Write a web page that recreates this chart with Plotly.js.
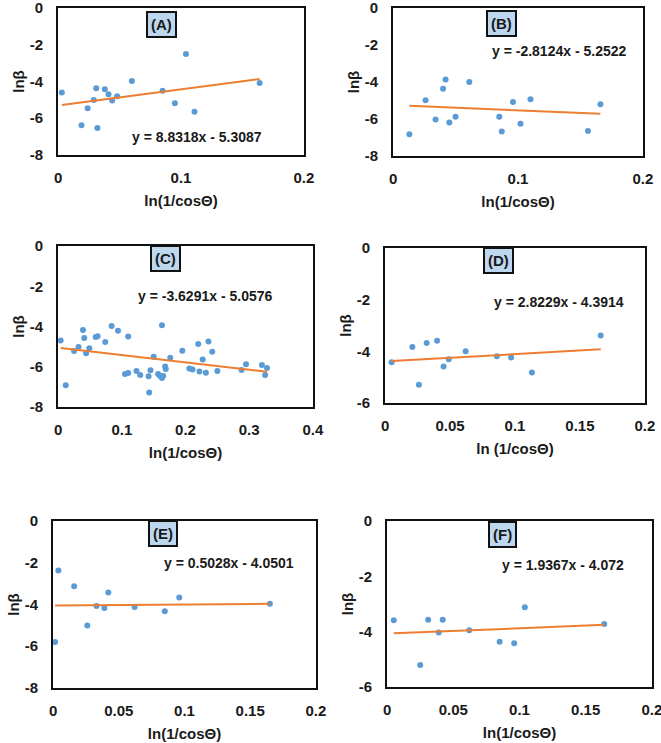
<!DOCTYPE html>
<html>
<head>
<meta charset="utf-8">
<script src="https://cdn.plot.ly/plotly-3.0.1.min.js"></script>
<style>
  html, body { margin: 0; padding: 0; background: #fff; }
  #chart { width: 661px; height: 743px; }
</style>
</head>
<body>
<div id="chart"></div>
<script>
// valores (x = ln(1/cosθ), y = lnβ)
const xA = [0.003, 0.019, 0.024, 0.029, 0.031, 0.032, 0.038, 0.041, 0.044, 0.048, 0.060, 0.085, 0.095, 0.104, 0.111, 0.164];
const yA = [-4.60, -6.39, -5.46, -5.01, -4.37, -6.53, -4.42, -4.70, -5.04, -4.81, -3.97, -4.51, -5.19, -2.50, -5.65, -4.08];

const xB = [0.013, 0.026, 0.034, 0.040, 0.042, 0.045, 0.050, 0.061, 0.085, 0.087, 0.096, 0.102, 0.110, 0.156, 0.166];
const yB = [-6.83, -4.99, -6.03, -4.37, -3.86, -6.19, -5.88, -4.00, -5.88, -6.68, -5.08, -6.26, -4.94, -6.65, -5.21];

const xC = [0.004, 0.012, 0.025, 0.032, 0.039, 0.041, 0.044, 0.049, 0.059, 0.062, 0.074, 0.084, 0.094, 0.105, 0.110,
            0.110, 0.123, 0.129, 0.142, 0.143, 0.145, 0.150, 0.157, 0.160, 0.163, 0.163, 0.165, 0.168, 0.169, 0.176,
            0.195, 0.206, 0.211, 0.220, 0.222, 0.227, 0.232, 0.236, 0.242, 0.250, 0.288, 0.295, 0.320, 0.325, 0.328];
const yC = [-4.70, -6.92, -5.22, -5.02, -4.17, -4.57, -5.33, -5.08, -4.52, -4.49, -4.77, -3.97, -4.21, -6.36, -6.31,
            -4.50, -6.21, -6.41, -6.47, -7.28, -6.17, -5.50, -6.36, -6.46, -6.56, -3.94, -6.46, -5.99, -6.11, -5.56,
            -5.20, -6.09, -6.14, -4.87, -6.24, -5.64, -6.30, -4.74, -5.25, -6.21, -6.16, -5.88, -5.91, -6.41, -6.07];

const xD = [0.005, 0.021, 0.026, 0.032, 0.040, 0.045, 0.049, 0.062, 0.086, 0.097, 0.113, 0.166];
const yD = [-4.42, -3.83, -5.30, -3.68, -3.59, -4.59, -4.31, -4.00, -4.19, -4.24, -4.82, -3.39];

const xE = [0.0015, 0.004, 0.016, 0.026, 0.033, 0.039, 0.042, 0.062, 0.085, 0.096, 0.165];
const yE = [-5.80, -2.37, -3.13, -5.01, -4.07, -4.17, -3.43, -4.12, -4.32, -3.66, -3.97];

const xF = [0.005, 0.025, 0.031, 0.039, 0.042, 0.062, 0.085, 0.096, 0.104, 0.164];
const yF = [-3.59, -5.21, -3.57, -4.03, -3.57, -3.95, -4.37, -4.42, -3.12, -3.72];

// coeficientes das linhas de tendência (y = a x + b)
const slopes = [8.8318, -2.8124, -3.6291, 2.8229, 0.5028, 1.9367];
const intercepts = [-5.3087, -5.2522, -5.0576, -4.3914, -4.0501, -4.072];
const equations = ['y = 8.8318x - 5.3087', 'y = -2.8124x - 5.2522', 'y = -3.6291x - 5.0576',
                   'y = 2.8229x - 4.3914', 'y = 0.5028x - 4.0501', 'y = 1.9367x - 4.072'];
const panelLabels = ['(A)', '(B)', '(C)', '(D)', '(E)', '(F)'];
const xTitles = ['ln(1/cosΘ)', 'ln(1/cosΘ)', 'ln(1/cosΘ)', 'ln (1/cosΘ)', 'ln(1/cosΘ)', 'ln(1/cosΘ)'];
const xTicks = [[0, 0.1, 0.2], [0, 0.1, 0.2], [0, 0.1, 0.2, 0.3, 0.4],
                [0, 0.05, 0.1, 0.15, 0.2], [0, 0.05, 0.1, 0.15, 0.2], [0, 0.05, 0.1, 0.15, 0.2]];
const yTicks8 = [0, -2, -4, -6, -8];
const yTicks6 = [0, -2, -4, -6];

const xs = [xA, xB, xC, xD, xE, xF];
const ys = [yA, yB, yC, yD, yE, yF];
const yTicks = [yTicks8, yTicks8, yTicks8, yTicks6, yTicks8, yTicks6];

// posição dos painéis em pixels: [esquerda, direita, topo, base]
const W = 661, H = 743;
const boxes = [
  [58, 304, 8, 155], [393, 643, 8, 156],
  [58, 313, 246, 407], [385, 645, 248, 403],
  [53, 316, 521, 688], [387, 652, 521, 687]
];
const labelPos = [[0.084, -0.92], [0.087, -0.86], [0.168, -0.62], [0.087, -0.48], [0.084, -0.6], [0.087, -0.47]];
const eqPos = [[0.113, -7.03], [0.133, -2.3], [0.231, -2.48], [0.134, -2.09], [0.134, -2.01], [0.133, -1.59]];

const font = 'Liberation Sans, Arial, sans-serif';
const txt = '#1a1a1a';

const data = [];
const layout = {
  width: W, height: H,
  margin: { l: 0, r: 0, t: 0, b: 0 },
  paper_bgcolor: '#fff', plot_bgcolor: '#fff',
  showlegend: false,
  font: { family: font, color: txt },
  annotations: []
};

for (let i = 0; i < 6; i++) {
  const n = i === 0 ? '' : String(i + 1);
  const xa = 'x' + n, ya = 'y' + n;
  const b = boxes[i];
  const xt = xTicks[i], yt = yTicks[i];
  const xmax = xt[xt.length - 1], ymin = yt[yt.length - 1];

  data.push({
    x: xs[i], y: ys[i], xaxis: xa, yaxis: ya,
    type: 'scatter', mode: 'markers',
    marker: { color: '#5b9bd5', size: 6 },
    hoverinfo: 'x+y'
  });

  // linha de tendência entre o menor e o maior x
  const x0 = Math.min(...xs[i]), x1 = Math.max(...xs[i]);
  data.push({
    x: [x0, x1], y: [slopes[i] * x0 + intercepts[i], slopes[i] * x1 + intercepts[i]],
    xaxis: xa, yaxis: ya, type: 'scatter', mode: 'lines',
    line: { color: '#ed7d31', width: 2 }, hoverinfo: 'skip'
  });

  layout['xaxis' + n] = {
    domain: [b[0] / W, b[1] / W],
    anchor: ya, range: [-xmax * 0.0005, xmax * 1.0005],
    tickmode: 'array', tickvals: xt, ticktext: xt.map(String),
    showgrid: false, zeroline: false,
    showline: true, mirror: true, linecolor: '#111', linewidth: 2,
    ticks: '', ticklabelstandoff: 8, ticklabeloverflow: 'allow',
    tickfont: { size: 15, family: font, color: txt, weight: 'bold' },
    title: { text: xTitles[i], standoff: 10, font: { size: 15, family: font, color: txt, weight: 'bold' } }
  };
  layout['yaxis' + n] = {
    domain: [1 - b[3] / H, 1 - b[2] / H],
    anchor: xa, range: [ymin * 1.0005, -ymin * 0.0005],
    tickmode: 'array', tickvals: yt, ticktext: yt.map(String),
    showgrid: false, zeroline: false,
    showline: true, mirror: true, linecolor: '#111', linewidth: 2,
    ticks: '', ticklabelstandoff: 10, ticklabeloverflow: 'allow',
    tickfont: { size: 15, family: font, color: txt, weight: 'bold' },
    title: { text: 'lnβ', standoff: 1, font: { size: 15, family: font, color: txt, weight: 'bold' } }
  };

  layout.annotations.push({
    xref: xa, yref: ya, x: labelPos[i][0], y: labelPos[i][1],
    text: '<b>' + panelLabels[i] + '</b>', showarrow: false,
    font: { size: 15, family: font, color: txt },
    bgcolor: '#bdd7ee', bordercolor: '#111', borderwidth: 2, borderpad: 3
  });
  layout.annotations.push({
    xref: xa, yref: ya, x: eqPos[i][0], y: eqPos[i][1],
    text: '<b>' + equations[i] + '</b>', showarrow: false,
    font: { size: 14, family: font, color: txt }
  });
}

Plotly.newPlot('chart', data, layout, { displayModeBar: false, staticPlot: true });
</script>
</body>
</html>
